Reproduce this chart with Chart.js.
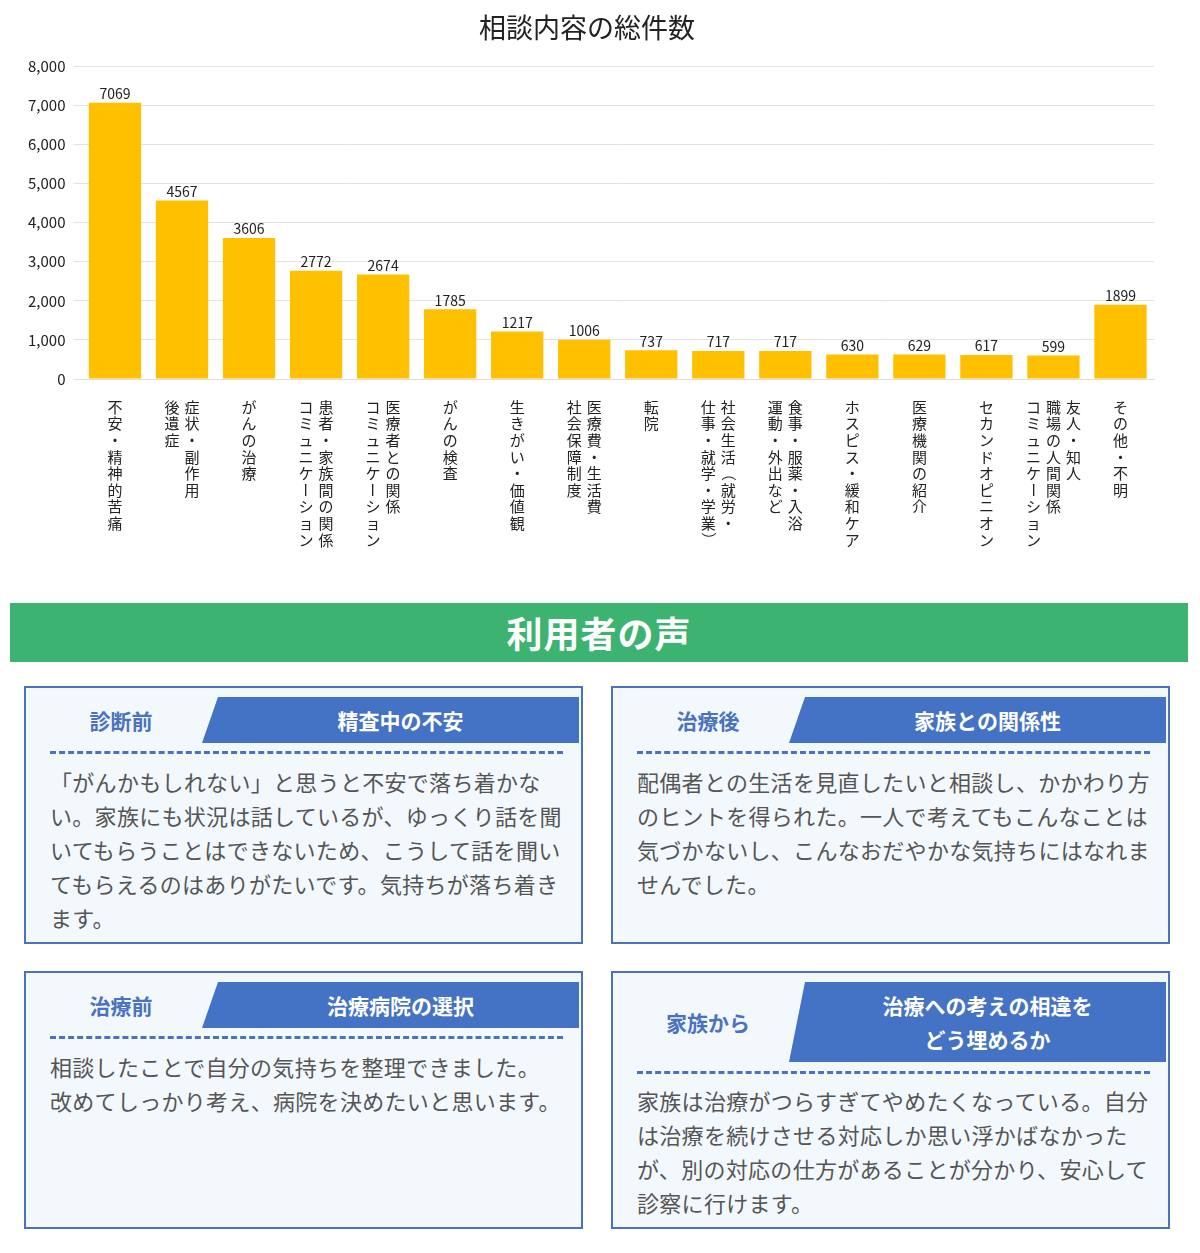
<!DOCTYPE html>
<html lang="ja">
<head>
<meta charset="utf-8">
<script src="https://cdn.jsdelivr.net/npm/chart.js@4"></script>
<style>
  body { margin: 0; background: #fff; font-family: "Noto Sans CJK JP", sans-serif; }
  #chartBox { position: relative; width: 1200px; height: 580px; }
  .banner { position: absolute; left: 10px; top: 603px; width: 1178px; height: 59px; background: #3cb371;
    color: #fff; font-size: 36px; font-weight: 700; text-align: center; line-height: 59px; letter-spacing: 1px; }
  .card { position: absolute; width: 559px; height: 258px; border: 2px solid #4a72bd; background: #f3f8fd; box-sizing: border-box; }
  .head { position: absolute; left: 0; top: 9px; width: 553px; height: 46px; }
  .head.tall { height: 80px; }
  .tag { position: absolute; left: 0; top: 0; width: 190px; height: 100%; display: flex; align-items: center; justify-content: center;
    color: #4a72bd; font-size: 21px; font-weight: 700; }
  .topic { position: absolute; left: 176px; top: 0; right: 0; height: 100%; background: #4472c4; color: #fff;
    clip-path: polygon(16px 0, 100% 0, 100% 100%, 0 100%); display: flex; align-items: center; justify-content: center;
    font-size: 21px; font-weight: 700; text-align: center; line-height: 34px; padding-left: 20px; box-sizing: border-box; }
  .dash { position: absolute; left: 24px; right: 18px; height: 0; border-top: 3px dashed #4a72bd; }
  .body { position: absolute; left: 24px; right: 14px; color: #555; font-size: 22px; line-height: 34px; letter-spacing: 0.3px; }
</style>
</head>
<body>
<div id="chartBox"><canvas id="c" width="1200" height="580"></canvas></div>
<div class="banner">利用者の声</div>

<div class="card" style="left:24px;top:686px">
  <div class="head"><div class="tag">診断前</div><div class="topic">精査中の不安</div></div>
  <div class="dash" style="top:63px"></div>
  <div class="body" style="top:76px">「がんかもしれない」と思うと不安で落ち着かない。家族にも状況は話しているが、ゆっくり話を聞いてもらうことはできないため、こうして話を聞いてもらえるのはありがたいです。気持ちが落ち着きます。</div>
</div>
<div class="card" style="left:611px;top:686px">
  <div class="head"><div class="tag">治療後</div><div class="topic">家族との関係性</div></div>
  <div class="dash" style="top:63px"></div>
  <div class="body" style="top:76px">配偶者との生活を見直したいと相談し、かかわり方のヒントを得られた。一人で考えてもこんなことは気づかないし、こんなおだやかな気持ちにはなれませんでした。</div>
</div>
<div class="card" style="left:24px;top:971px">
  <div class="head"><div class="tag">治療前</div><div class="topic">治療病院の選択</div></div>
  <div class="dash" style="top:63px"></div>
  <div class="body" style="top:76px">相談したことで自分の気持ちを整理できました。<br>改めてしっかり考え、病院を決めたいと思います。</div>
</div>
<div class="card" style="left:611px;top:971px">
  <div class="head tall"><div class="tag">家族から</div><div class="topic">治療への考えの相違を<br>どう埋めるか</div></div>
  <div class="dash" style="top:98px"></div>
  <div class="body" style="top:110px">家族は治療がつらすぎてやめたくなっている。自分は治療を続けさせる対応しか思い浮かばなかったが、別の対応の仕方があることが分かり、安心して診察に行けます。</div>
</div>

<script>
// 相談内容カテゴリ（縦書き：各要素が1列、右から左へ）
var categories = [
  ['不安・精神的苦痛'],
  ['症状・副作用', '後遺症'],
  ['がんの治療'],
  ['患者・家族間の関係', 'コミュニケーション'],
  ['医療者との関係', 'コミュニケーション'],
  ['がんの検査'],
  ['生きがい・価値観'],
  ['医療費・生活費', '社会保障制度'],
  ['転院'],
  ['社会生活（就労・', '仕事・就学・学業）'],
  ['食事・服薬・入浴', '運動・外出など'],
  ['ホスピス・緩和ケア'],
  ['医療機関の紹介'],
  ['セカンドオピニオン'],
  ['友人・知人', '職場の人間関係', 'コミュニケーション'],
  ['その他・不明']
];
var counts = [7069, 4567, 3606, 2772, 2674, 1785, 1217, 1006, 737, 717, 717, 630, 629, 617, 599, 1899];
var yTicks = [0, 1000, 2000, 3000, 4000, 5000, 6000, 7000, 8000];

var FONT = '"Noto Sans CJK JP", "Noto Sans", sans-serif';
var ROTATE_CHARS = 'ー（）「」';

// 棒の上に件数
var valueLabels = {
  id: 'valueLabels',
  afterDatasetsDraw: function (chart) {
    var ctx = chart.ctx;
    var meta = chart.getDatasetMeta(0);
    ctx.save();
    ctx.font = '14px ' + FONT;
    ctx.fillStyle = '#222';
    ctx.textAlign = 'center';
    ctx.textBaseline = 'bottom';
    meta.data.forEach(function (bar, i) {
      ctx.fillText(counts[i], bar.x, bar.y - 2);
    });
    ctx.restore();
  }
};

// 縦書きのカテゴリラベル
var verticalLabels = {
  id: 'verticalLabels',
  afterDraw: function (chart) {
    var ctx = chart.ctx;
    var xScale = chart.scales.x;
    var top = chart.chartArea.bottom + 28;
    var colGap = 20, charStep = 16.6;
    ctx.save();
    ctx.font = '15px ' + FONT;
    ctx.fillStyle = '#222';
    ctx.textAlign = 'center';
    ctx.textBaseline = 'middle';
    categories.forEach(function (lines, i) {
      var cx = xScale.getPixelForValue(i);
      lines.forEach(function (line, j) {
        var x = cx + (lines.length - 1) / 2 * colGap - j * colGap;
        Array.from(line).forEach(function (ch, k) {
          var y = top + k * charStep;
          if (ROTATE_CHARS.indexOf(ch) >= 0) {
            ctx.save();
            ctx.translate(x, y);
            ctx.rotate(Math.PI / 2);
            ctx.fillText(ch, 0, 0);
            ctx.restore();
          } else {
            ctx.fillText(ch, x, y);
          }
        });
      });
    });
    ctx.restore();
  }
};

new Chart(document.getElementById('c').getContext('2d'), {
  type: 'bar',
  data: {
    labels: categories.map(function (l) { return l.join(''); }),
    datasets: [{
      data: counts,
      backgroundColor: '#ffc000',
      categoryPercentage: 1,
      barPercentage: 0.78
    }]
  },
  options: {
    responsive: false,
    animation: false,
    layout: { padding: { left: 20, right: 46, top: 0, bottom: 193 } },
    plugins: {
      legend: { display: false },
      tooltip: { enabled: false },
      title: {
        display: true,
        text: '相談内容の総件数',
        color: '#222',
        font: { size: 27, family: FONT, weight: 'normal' },
        padding: { top: 12, bottom: 22 }
      }
    },
    scales: {
      x: {
        ticks: { display: false },
        grid: { display: false },
        border: { color: '#ddd' }
      },
      y: {
        min: 0,
        max: 8000,
        afterBuildTicks: function (axis) {
          axis.ticks = yTicks.map(function (v) { return { value: v }; });
        },
        ticks: { color: '#222', font: { size: 15, family: FONT }, padding: 8 },
        grid: { color: '#e3e3e3' },
        border: { display: false }
      }
    }
  },
  plugins: [valueLabels, verticalLabels]
});
</script>
</body>
</html>
